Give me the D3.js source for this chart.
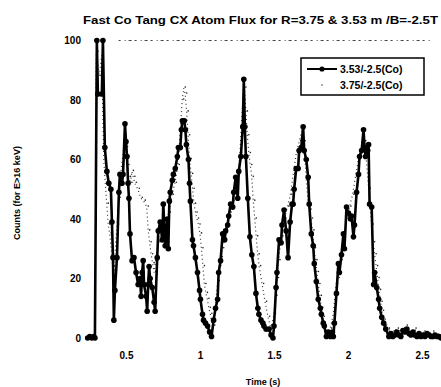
<!DOCTYPE html>
<html>
<head>
<meta charset="utf-8">
<script src="https://cdn.jsdelivr.net/npm/d3@7"></script>
<style>
  html, body { margin: 0; padding: 0; background: #fff; }
  svg { display: block; }
  text { font-family: "Liberation Sans", Arial, Helvetica, sans-serif; font-weight: bold; fill: #000; }
</style>
</head>
<body>
<svg id="chart" width="441" height="387"></svg>
<script>
// Fast co-tangential CX atom flux, two sightlines (R = 3.53 m and R = 3.75 m)
const chartTitle = "Fast Co Tang CX Atom Flux for R=3.75 & 3.53 m /B=-2.5T";
const seriesNames = ["3.53/-2.5(Co)", "3.75/-2.5(Co)"];
const xTicks = [0.5, 1, 1.5, 2, 2.5];
const yTicks = [0, 20, 40, 60, 80, 100];
const ceiling = 100;

// R = 3.53 m: time (s) and counts
const timeA = [0.241,0.255,0.269,0.282,0.29,0.303,0.31,0.337,0.344,0.357,0.371,0.384,0.398,0.405,0.412,0.418,0.425,0.439,0.452,0.459,0.473,0.48,0.493,0.5,0.507,0.514,0.52,0.527,0.541,0.554,0.568,0.582,0.595,0.602,0.609,0.616,0.622,0.636,0.643,0.65,0.656,0.663,0.677,0.69,0.697,0.711,0.718,0.731,0.745,0.752,0.765,0.779,0.786,0.793,0.799,0.813,0.82,0.833,0.847,0.854,0.867,0.874,0.881,0.894,0.901,0.908,0.922,0.929,0.935,0.949,0.956,0.969,0.983,0.997,1.003,1.017,1.024,1.037,1.051,1.065,1.078,1.092,1.105,1.119,1.126,1.139,1.153,1.167,1.173,1.187,1.194,1.207,1.221,1.228,1.241,1.255,1.262,1.276,1.289,1.296,1.303,1.31,1.323,1.337,1.35,1.364,1.378,1.391,1.398,1.412,1.425,1.432,1.446,1.467,1.48,1.493,1.5,1.514,1.52,1.534,1.548,1.554,1.568,1.582,1.595,1.609,1.622,1.629,1.636,1.65,1.663,1.67,1.684,1.697,1.704,1.718,1.731,1.738,1.752,1.765,1.772,1.786,1.799,1.813,1.82,1.833,1.84,1.854,1.867,1.881,1.895,1.901,1.908,1.922,1.935,1.942,1.956,1.969,1.976,1.99,2.003,2.017,2.024,2.037,2.044,2.058,2.071,2.078,2.092,2.105,2.112,2.119,2.133,2.139,2.146,2.16,2.173,2.18,2.194,2.207,2.214,2.228,2.241,2.255,2.276,2.289,2.303,2.316,2.33,2.344,2.357,2.371,2.384,2.398,2.412,2.425,2.439,2.452,2.466,2.48,2.493,2.507,2.52,2.534,2.548,2.561,2.575,2.588,2.602,2.616,2.629];
const fluxA = [0,0.5,0,0.5,0,100,82,82,100,64,56,52,50,39,27,6,16,27,49,55,52,55,72,66,61,52,47,35,26,27,22,18,20,14,22,26,18,14,9,18,24,20,17,12,9,27,36,39,33,45,31,40,30,46,49,53,55,57,61,64,64,70,73,73,70,65,60,52,46,33,31,27,22,16,13,8,6,5,4,2,0.5,6,10,13,22,26,35,33,36,38,41,45,44,49,54,47,56,61,71,87,71,61,47,34,28,24,15,10,8,6,5,4,3,3,1,0,4,17,22,33,32,38,43,36,27,39,45,45,50,57,57,63,64,71,63,60,54,45,35,31,25,19,13,10,8,5,4,0.5,2,0.5,2,0.5,5,15,25,22,28,35,30,44,42,40,41,34,38,49,55,61,63,70,64,61,63,65,45,44,18,22,17,13,10,7,5,3,0.5,1.5,0.5,1,2,1,0.5,2.5,2,3,1.5,1,2,1,0.5,1.5,0.5,1,0.5,1.5,1,0.5,0.5,1,0.5,0.5,0];

// R = 3.75 m: time (s) and counts
const timeB = [0.25,0.27,0.29,0.3,0.32,0.335,0.35,0.36,0.37,0.38,0.39,0.4,0.41,0.42,0.43,0.44,0.45,0.46,0.47,0.48,0.49,0.5,0.51,0.52,0.53,0.54,0.55,0.56,0.58,0.6,0.62,0.64,0.65,0.66,0.67,0.68,0.69,0.7,0.72,0.73,0.75,0.77,0.79,0.81,0.83,0.85,0.86,0.87,0.88,0.89,0.9,0.91,0.92,0.93,0.94,0.95,0.96,0.97,0.98,0.99,1,1.01,1.02,1.03,1.04,1.05,1.06,1.07,1.08,1.09,1.1,1.11,1.12,1.13,1.14,1.15,1.16,1.18,1.2,1.22,1.24,1.26,1.27,1.28,1.29,1.3,1.31,1.32,1.33,1.34,1.35,1.36,1.37,1.38,1.39,1.4,1.42,1.44,1.46,1.48,1.5,1.51,1.52,1.53,1.55,1.57,1.59,1.61,1.63,1.65,1.67,1.69,1.7,1.71,1.72,1.73,1.74,1.75,1.76,1.77,1.78,1.79,1.8,1.81,1.82,1.83,1.84,1.86,1.88,1.9,1.91,1.92,1.93,1.94,1.95,1.97,1.99,2.01,2.03,2.05,2.07,2.09,2.1,2.11,2.12,2.13,2.14,2.15,2.16,2.17,2.18,2.19,2.2,2.21,2.22,2.23,2.24,2.25,2.27,2.3,2.33,2.36,2.39,2.42,2.45,2.48,2.51,2.54,2.57,2.6,2.63];
const fluxB = [0,0,0,96,88,95,60,52,45,38,35,30,24,20,32,38,47,52,58,62,68,64,58,54,52,56,54,52,50,47,46,44,36,32,28,25,22,26,32,34,37,40,42,48,52,58,64,72,80,84,82,76,68,60,55,50,45,42,40,38,35,30,24,18,15,13,10,8,5,4,9,14,19,24,27,30,34,38,42,46,50,56,62,72,80,84,76,68,62,58,54,46,40,34,28,24,18,12,7,3,8,14,20,26,34,40,44,48,55,62,66,70,66,60,52,46,43,40,36,30,26,22,18,14,10,7,4,2,3,8,13,18,20,22,26,32,40,44,48,54,60,64,68,66,62,56,50,44,38,32,28,24,20,16,12,9,6,4,3,2,3,2,4,2,3,1,2,1,2,1,1];

const seriesA = timeA.map((t, i) => ({ t, v: fluxA[i] }));
const seriesB = timeB.map((t, i) => ({ t, v: fluxB[i] }));

const svg = d3.select("#chart");

const x = d3.scaleLinear().domain([0, 2.6]).range([52, 436.8]);
const y = d3.scaleLinear().domain([0, 100]).range([338, 40.5]);

// title
svg.append("text")
  .attr("x", 83).attr("y", 24)
  .attr("font-size", 11.5)
  .attr("textLength", 355).attr("lengthAdjust", "spacingAndGlyphs")
  .text(chartTitle);

// axes: labels only, no lines or tick marks
const yAxis = svg.append("g")
  .attr("transform", "translate(84,0)")
  .call(d3.axisLeft(y).tickValues(yTicks).tickSize(0).tickPadding(3).tickFormat(d3.format("d")));
const xAxis = svg.append("g")
  .attr("transform", "translate(0,342)")
  .call(d3.axisBottom(x).tickValues(xTicks).tickSize(0).tickPadding(9.5).tickFormat(d => String(d)));
[yAxis, xAxis].forEach(g => {
  g.select(".domain").remove();
  g.selectAll("text").attr("font-size", 10).attr("font-weight", "bold")
    .attr("font-family", "'Liberation Sans', Arial, sans-serif").attr("fill", "#000");
});

// axis titles
svg.append("text")
  .attr("x", 263).attr("y", 385)
  .attr("text-anchor", "middle").attr("font-size", 9)
  .text("Time  (s)");
svg.append("text")
  .attr("transform", "translate(20,193) rotate(-90)")
  .attr("text-anchor", "middle").attr("font-size", 9)
  .text("Counts (for E>16 keV)");

// saturation level
svg.append("line")
  .attr("x1", x(0.45)).attr("x2", x(2.57))
  .attr("y1", y(ceiling)).attr("y2", y(ceiling))
  .attr("stroke", "#444").attr("stroke-width", 1)
  .attr("stroke-dasharray", "2,4,1,3,3,3");

// R = 3.75 m: speckled trace
const line = d3.line().x(d => x(d.t)).y(d => y(d.v));
svg.append("path")
  .datum(seriesB)
  .attr("d", line)
  .attr("fill", "none")
  .attr("stroke", "#333")
  .attr("stroke-width", 1.2)
  .attr("stroke-dasharray", "1,3");
svg.append("g").selectAll("circle")
  .data(seriesB).join("circle")
  .attr("cx", d => x(d.t) + 1.5).attr("cy", d => y(d.v) - 1)
  .attr("r", 0.8).attr("fill", "#222");

// R = 3.53 m: solid line with markers
svg.append("path")
  .datum(seriesA)
  .attr("d", line)
  .attr("fill", "none")
  .attr("stroke", "#000")
  .attr("stroke-width", 2.6)
  .attr("stroke-linejoin", "round");
svg.append("g").selectAll("circle")
  .data(seriesA).join("circle")
  .attr("cx", d => x(d.t)).attr("cy", d => y(d.v))
  .attr("r", 2.8).attr("fill", "#000");

// legend
const lg = svg.append("g").attr("transform", "translate(301,58)");
lg.append("rect")
  .attr("width", 123).attr("height", 37)
  .attr("fill", "#fff").attr("stroke", "#000").attr("stroke-width", 1.5);
lg.append("line")
  .attr("x1", 6).attr("x2", 36).attr("y1", 11).attr("y2", 11)
  .attr("stroke", "#000").attr("stroke-width", 2);
lg.append("circle").attr("cx", 21).attr("cy", 11).attr("r", 2.6).attr("fill", "#000");
lg.append("circle").attr("cx", 21).attr("cy", 27).attr("r", 0.8).attr("fill", "#444");
lg.selectAll("text.lab")
  .data(seriesNames).join("text")
  .attr("class", "lab")
  .attr("x", 39).attr("y", (d, i) => 15 + i * 16)
  .attr("font-size", 10.5)
  .text(d => d);
</script>
</body>
</html>
